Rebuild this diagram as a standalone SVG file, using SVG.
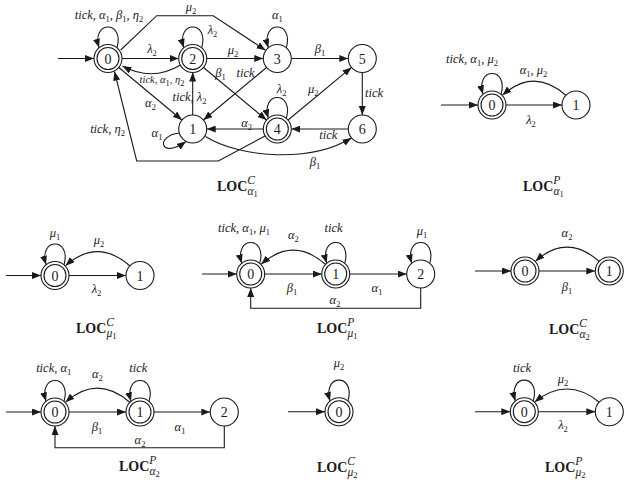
<svg xmlns="http://www.w3.org/2000/svg" width="624" height="483" viewBox="0 0 624 483">
<defs>
<marker id="a" markerUnits="userSpaceOnUse" markerWidth="9" markerHeight="7" viewBox="0 0 9 7" refX="9" refY="3.5" orient="auto"><path d="M0,0 L9,3.5 L0,7 z" fill="#1a1a1a"/></marker>
<style>
.n{fill:#fff;stroke:#1a1a1a;stroke-width:1.1}
.e{fill:none;stroke:#1a1a1a;stroke-width:1.1;marker-end:url(#a)}
.k{font-family:"Liberation Serif",serif;font-size:14px;text-anchor:middle;fill:#1a1a1a}
.l{font-family:"Liberation Serif",serif;font-style:italic;font-size:12.5px;text-anchor:middle;fill:#1a1a1a}
.ls{font-size:10.5px}
.s{font-style:normal;font-size:8.5px}
.h{font-family:"Liberation Serif",serif;font-weight:bold;font-size:14px;fill:#1a1a1a}
.hs{font-weight:normal;font-style:italic;font-size:11.5px}
.hss{font-weight:normal;font-style:normal;font-size:8.5px}
</style>
</defs>
<rect width="624" height="483" fill="#fff"/>

<!-- LOC alpha1 C -->
<g id="loc-a1-C">
<g id="a1c-edges">
<path class="e" d="M58,58.5 H94"/>
<path class="e" d="M117,47.8 C125,20 91,20 99,47.8"/>
<path class="e" d="M120.7,50 L156.7,15.7 L213.3,15.7 L265.5,50.3"/>
<path class="e" d="M122,58.5 H178.7"/>
<path class="e" d="M180.5,65 Q152,82 122.5,66"/>
<path class="e" d="M118.8,67.5 L181.9,120"/>
<path class="e" d="M192.7,115 V72.5"/>
<path class="e" d="M179,133 C155,136 160,160 186,141.5"/>
<path class="e" d="M201.7,47.8 C209.7,20 175.7,20 183.7,47.8"/>
<path class="e" d="M206.7,58.5 H263.3"/>
<path class="e" d="M203.5,67.5 L266.5,120"/>
<path class="e" d="M266.5,67.5 L203.5,120"/>
<path class="e" d="M286.3,47.8 C294.3,20 260.3,20 268.3,47.8"/>
<path class="e" d="M291.3,58.5 H348.3"/>
<path class="e" d="M288.1,120 L351.5,67.4"/>
<path class="e" d="M362.3,72.5 V115"/>
<path class="e" d="M348.3,129 H291.3"/>
<path class="e" d="M263.3,129 H206.7"/>
<path class="e" d="M286.3,118.3 C294.3,90.5 260.3,90.5 268.3,118.3"/>
<path class="e" d="M265,136 L218.3,161 L136.7,161 L114.5,71.5"/>
<path class="e" d="M205.5,136.5 C240,158 310,163 351.5,138"/>
</g>
<g id="a1c-labels">
<text class="l" x="109" y="19">tick, α<tspan class="s" dy="3">1</tspan><tspan dy="-3">, β</tspan><tspan class="s" dy="3">1</tspan><tspan dy="-3">, η</tspan><tspan class="s" dy="3">2</tspan></text>
<text class="l" x="191" y="11">μ<tspan class="s" dy="3">2</tspan></text>
<text class="l" x="152" y="53">λ<tspan class="s" dy="3">2</tspan></text>
<text class="l ls" x="162" y="83">tick, α<tspan class="s" dy="3">1</tspan><tspan dy="-3">, η</tspan><tspan class="s" dy="3">2</tspan></text>
<text class="l" x="150.5" y="107">α<tspan class="s" dy="3">2</tspan></text>
<text class="l" x="189.5" y="101">tick, λ<tspan class="s" dy="3">2</tspan></text>
<text class="l" x="157" y="137">α<tspan class="s" dy="3">1</tspan></text>
<text class="l" x="107.5" y="133">tick, η<tspan class="s" dy="3">2</tspan></text>
<text class="l" x="212.5" y="34">λ<tspan class="s" dy="3">2</tspan></text>
<text class="l" x="233" y="54">μ<tspan class="s" dy="3">2</tspan></text>
<text class="l" x="220.5" y="77">β<tspan class="s" dy="3">1</tspan></text>
<text class="l" x="245.5" y="77">tick</text>
<text class="l" x="277.3" y="19">α<tspan class="s" dy="3">1</tspan></text>
<text class="l" x="320" y="53">β<tspan class="s" dy="3">1</tspan></text>
<text class="l" x="313.3" y="93">μ<tspan class="s" dy="3">2</tspan></text>
<text class="l" x="281.7" y="93">λ<tspan class="s" dy="3">2</tspan></text>
<text class="l" x="374" y="97">tick</text>
<text class="l" x="328.3" y="139">tick</text>
<text class="l" x="246.7" y="127">α<tspan class="s" dy="3">2</tspan></text>
<text class="l" x="315" y="166">β<tspan class="s" dy="3">1</tspan></text>
</g>
<g id="a1c-n0"><circle class="n" cx="108" cy="58.5" r="14"/><circle class="n" cx="108" cy="58.5" r="11"/><text class="k" x="108" y="63.5">0</text></g>
<g id="a1c-n2"><circle class="n" cx="192.7" cy="58.5" r="14"/><circle class="n" cx="192.7" cy="58.5" r="11"/><text class="k" x="192.7" y="63.5">2</text></g>
<g id="a1c-n3"><circle class="n" cx="277.3" cy="58.5" r="14"/><text class="k" x="277.3" y="63.5">3</text></g>
<g id="a1c-n5"><circle class="n" cx="362.3" cy="58.5" r="14"/><text class="k" x="362.3" y="63.5">5</text></g>
<g id="a1c-n1"><circle class="n" cx="192.7" cy="129" r="14"/><text class="k" x="192.7" y="134">1</text></g>
<g id="a1c-n4"><circle class="n" cx="277.3" cy="129" r="14"/><circle class="n" cx="277.3" cy="129" r="11"/><text class="k" x="277.3" y="134">4</text></g>
<g id="a1c-n6"><circle class="n" cx="362.3" cy="129" r="14"/><text class="k" x="362.3" y="134">6</text></g>
<text id="a1c-title" class="h" x="217" y="191">LOC<tspan class="hs" dy="-7">C</tspan><tspan class="hs" dx="-7.5" dy="11">α</tspan><tspan class="hss" dy="2">1</tspan></text>
</g>

<!-- LOC alpha1 P -->
<g id="loc-a1-P">
<g id="a1p-edges">
<path class="e" d="M441,105 H478"/>
<path class="e" d="M501,94.3 C509,66.5 475,66.5 483,94.3"/>
<path class="e" d="M566,95.5 Q534,67 502.5,95.2"/>
<path class="e" d="M506,105 H562"/>
</g>
<g id="a1p-labels">
<text class="l" x="472" y="63">tick, α<tspan class="s" dy="3">1</tspan><tspan dy="-3">, μ</tspan><tspan class="s" dy="3">2</tspan></text>
<text class="l" x="533.5" y="74">α<tspan class="s" dy="3">1</tspan><tspan dy="-3">, μ</tspan><tspan class="s" dy="3">2</tspan></text>
<text class="l" x="531" y="124">λ<tspan class="s" dy="3">2</tspan></text>
</g>
<g id="a1p-n0"><circle class="n" cx="492" cy="105" r="14"/><circle class="n" cx="492" cy="105" r="11"/><text class="k" x="492" y="110">0</text></g>
<g id="a1p-n1"><circle class="n" cx="576" cy="105" r="14"/><text class="k" x="576" y="110">1</text></g>
<text id="a1p-title" class="h" x="523" y="191">LOC<tspan class="hs" dy="-7">P</tspan><tspan class="hs" dx="-7" dy="11">α</tspan><tspan class="hss" dy="2">1</tspan></text>
</g>

<!-- LOC mu1 C -->
<g id="loc-m1-C">
<g id="m1c-edges">
<path class="e" d="M6,275.5 H41"/>
<path class="e" d="M64,264.8 C72,237 38,237 46,264.8"/>
<path class="e" d="M130,266 Q97.5,237.5 65.5,265.7"/>
<path class="e" d="M69,275.5 H126"/>
</g>
<g id="m1c-labels">
<text class="l" x="55" y="237">μ<tspan class="s" dy="3">1</tspan></text>
<text class="l" x="99" y="244">μ<tspan class="s" dy="3">2</tspan></text>
<text class="l" x="96.5" y="293">λ<tspan class="s" dy="3">2</tspan></text>
</g>
<g id="m1c-n0"><circle class="n" cx="55" cy="275.5" r="14"/><circle class="n" cx="55" cy="275.5" r="11"/><text class="k" x="55" y="280.5">0</text></g>
<g id="m1c-n1"><circle class="n" cx="140" cy="275.5" r="14"/><text class="k" x="140" y="280.5">1</text></g>
<text id="m1c-title" class="h" x="76" y="333">LOC<tspan class="hs" dy="-7">C</tspan><tspan class="hs" dx="-7.5" dy="11">μ</tspan><tspan class="hss" dy="2">1</tspan></text>
</g>

<!-- LOC mu1 P -->
<g id="loc-m1-P">
<g id="m1p-edges">
<path class="e" d="M202,274 H236.7"/>
<path class="e" d="M259.7,263.3 C267.7,235.5 233.7,235.5 241.7,263.3"/>
<path class="e" d="M344.7,263.3 C352.7,235.5 318.7,235.5 326.7,263.3"/>
<path class="e" d="M429.7,263.3 C437.7,235.5 403.7,235.5 411.7,263.3"/>
<path class="e" d="M325.7,264.5 Q293.2,236 261.2,264.2"/>
<path class="e" d="M264.7,274 H321.7"/>
<path class="e" d="M349.7,274 H406.7"/>
<path class="e" d="M420.7,288 V308.3 H250.7 V288"/>
</g>
<g id="m1p-labels">
<text class="l" x="244" y="232">tick, α<tspan class="s" dy="3">1</tspan><tspan dy="-3">, μ</tspan><tspan class="s" dy="3">1</tspan></text>
<text class="l" x="333.5" y="232">tick</text>
<text class="l" x="422" y="235">μ<tspan class="s" dy="3">1</tspan></text>
<text class="l" x="293.3" y="239">α<tspan class="s" dy="3">2</tspan></text>
<text class="l" x="292" y="292">β<tspan class="s" dy="3">1</tspan></text>
<text class="l" x="377" y="292">α<tspan class="s" dy="3">1</tspan></text>
<text class="l" x="335" y="304">α<tspan class="s" dy="3">2</tspan></text>
</g>
<g id="m1p-n0"><circle class="n" cx="250.7" cy="274" r="14"/><circle class="n" cx="250.7" cy="274" r="11"/><text class="k" x="250.7" y="279">0</text></g>
<g id="m1p-n1"><circle class="n" cx="335.7" cy="274" r="14"/><circle class="n" cx="335.7" cy="274" r="11"/><text class="k" x="335.7" y="279">1</text></g>
<g id="m1p-n2"><circle class="n" cx="420.7" cy="274" r="14"/><text class="k" x="420.7" y="279">2</text></g>
<text id="m1p-title" class="h" x="317" y="333">LOC<tspan class="hs" dy="-7">P</tspan><tspan class="hs" dx="-7" dy="11">μ</tspan><tspan class="hss" dy="2">1</tspan></text>
</g>

<!-- LOC alpha2 C -->
<g id="loc-a2-C">
<g id="a2c-edges">
<path class="e" d="M475,271 H511"/>
<path class="e" d="M599.3,261.5 Q567,233 535.5,261.2"/>
<path class="e" d="M539,271 H595.3"/>
</g>
<g id="a2c-labels">
<text class="l" x="567" y="237">α<tspan class="s" dy="3">2</tspan></text>
<text class="l" x="567" y="291">β<tspan class="s" dy="3">1</tspan></text>
</g>
<g id="a2c-n0"><circle class="n" cx="525" cy="271" r="14"/><circle class="n" cx="525" cy="271" r="11"/><text class="k" x="525" y="276">0</text></g>
<g id="a2c-n1"><circle class="n" cx="609.3" cy="271" r="14"/><circle class="n" cx="609.3" cy="271" r="11"/><text class="k" x="609.3" y="276">1</text></g>
<text id="a2c-title" class="h" x="549" y="334">LOC<tspan class="hs" dy="-7">C</tspan><tspan class="hs" dx="-7.5" dy="11">α</tspan><tspan class="hss" dy="2">2</tspan></text>
</g>

<!-- LOC alpha2 P -->
<g id="loc-a2-P">
<g id="a2p-edges">
<path class="e" d="M6,412 H41"/>
<path class="e" d="M64,401.3 C72,373.5 38,373.5 46,401.3"/>
<path class="e" d="M149,401.3 C157,373.5 123,373.5 131,401.3"/>
<path class="e" d="M130,402.5 Q97.5,374 65.5,402.2"/>
<path class="e" d="M69,412 H126"/>
<path class="e" d="M154,412 H210.3"/>
<path class="e" d="M224.3,426 V447.7 H55 V426"/>
</g>
<g id="a2p-labels">
<text class="l" x="53.7" y="372">tick, α<tspan class="s" dy="3">1</tspan></text>
<text class="l" x="138.3" y="372">tick</text>
<text class="l" x="97.3" y="378">α<tspan class="s" dy="3">2</tspan></text>
<text class="l" x="97" y="431">β<tspan class="s" dy="3">1</tspan></text>
<text class="l" x="180" y="431">α<tspan class="s" dy="3">1</tspan></text>
<text class="l" x="140" y="444">α<tspan class="s" dy="3">2</tspan></text>
</g>
<g id="a2p-n0"><circle class="n" cx="55" cy="412" r="14"/><circle class="n" cx="55" cy="412" r="11"/><text class="k" x="55" y="417">0</text></g>
<g id="a2p-n1"><circle class="n" cx="140" cy="412" r="14"/><circle class="n" cx="140" cy="412" r="11"/><text class="k" x="140" y="417">1</text></g>
<g id="a2p-n2"><circle class="n" cx="224.3" cy="412" r="14"/><text class="k" x="224.3" y="417">2</text></g>
<text id="a2p-title" class="h" x="119" y="471">LOC<tspan class="hs" dy="-7">P</tspan><tspan class="hs" dx="-7" dy="11">α</tspan><tspan class="hss" dy="2">2</tspan></text>
</g>

<!-- LOC mu2 C -->
<g id="loc-m2-C">
<g id="m2c-edges">
<path class="e" d="M288,411.7 H325"/>
<path class="e" d="M348,401 C356,373.2 322,373.2 330,401"/>
</g>
<g id="m2c-labels">
<text class="l" x="339" y="367">μ<tspan class="s" dy="3">2</tspan></text>
</g>
<g id="m2c-n0"><circle class="n" cx="339" cy="411.7" r="14"/><circle class="n" cx="339" cy="411.7" r="11"/><text class="k" x="339" y="416.7">0</text></g>
<text id="m2c-title" class="h" x="317" y="472">LOC<tspan class="hs" dy="-7">C</tspan><tspan class="hs" dx="-7.5" dy="11">μ</tspan><tspan class="hss" dy="2">2</tspan></text>
</g>

<!-- LOC mu2 P -->
<g id="loc-m2-P">
<g id="m2p-edges">
<path class="e" d="M475,411.7 H510.3"/>
<path class="e" d="M533.3,401 C541.3,373.2 507.3,373.2 515.3,401"/>
<path class="e" d="M599.3,402.2 Q567,376 534.8,401.9"/>
<path class="e" d="M538.3,411.7 H595.3"/>
</g>
<g id="m2p-labels">
<text class="l" x="522" y="372">tick</text>
<text class="l" x="563" y="383">μ<tspan class="s" dy="3">2</tspan></text>
<text class="l" x="563" y="429">λ<tspan class="s" dy="3">2</tspan></text>
</g>
<g id="m2p-n0"><circle class="n" cx="524.3" cy="411.7" r="14"/><circle class="n" cx="524.3" cy="411.7" r="11"/><text class="k" x="524.3" y="416.7">0</text></g>
<g id="m2p-n1"><circle class="n" cx="609.3" cy="411.7" r="14"/><text class="k" x="609.3" y="416.7">1</text></g>
<text id="m2p-title" class="h" x="545" y="472">LOC<tspan class="hs" dy="-7">P</tspan><tspan class="hs" dx="-7" dy="11">μ</tspan><tspan class="hss" dy="2">2</tspan></text>
</g>
</svg>
